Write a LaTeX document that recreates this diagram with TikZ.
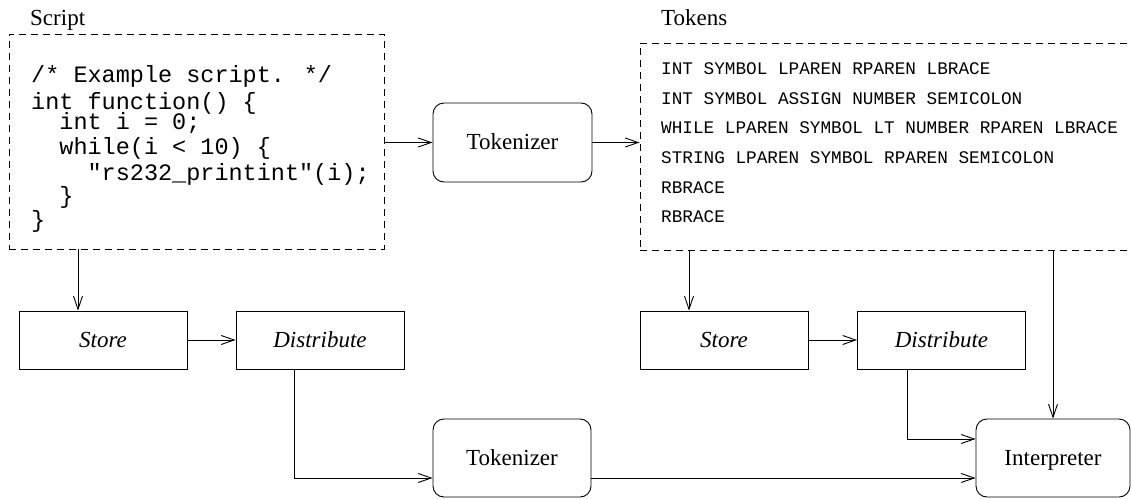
\documentclass[tikz,border=0pt]{standalone}
\usepackage{fontspec}
\setmainfont{Liberation Serif}
\newfontfamily\codefont{Liberation Mono}
\usetikzlibrary{arrows.meta}

\tikzset{
  conn/.style={line width=0.9pt, -{Straight Barb[length=13pt,width=9pt,line width=0.9pt]}},
  frame/.style={draw, line width=0.9pt, dash pattern=on 7pt off 5pt, inner sep=0pt},
  task/.style={draw, line width=0.9pt, inner sep=0pt, minimum width=168pt, minimum height=58pt,
               font=\fontsize{23}{27}\selectfont\itshape},
  proc/.style={draw, line width=0.9pt, rounded corners=11pt, inner sep=0pt,
               font=\fontsize{23}{27}\selectfont},
  title/.style={anchor=base west, inner sep=0pt, font=\fontsize{23}{27}\selectfont},
  code/.style={anchor=base west, inner sep=0pt, font=\fontsize{23.5}{27}\codefont},
  tok/.style={anchor=base west, inner sep=0pt, font=\fontsize{17.7}{21}\codefont},
}

\begin{document}
\begin{tikzpicture}[x=1pt, y=-1pt]
\useasboundingbox (0,0) rectangle (1131,498);
\clip (0,0) rectangle (1131,498);

% source script
\node[frame, minimum width=375pt, minimum height=215pt] (script) at (196.5,141.5) {};
\node[title] (scriptlbl) at (30,25) {Script};
\node[code] (c1) at (31,82)  {/* Example script. */};
\node[code] (c2) at (31,109) {int function() \{};
\node[code] (c3) at (59.2,129) {int i = 0;};
\node[code] (c4) at (59.2,154) {while(i < 10) \{};
\node[code] (c5) at (87.4,180) {"rs232\_printint"(i);};
\node[code] (c6) at (59.2,203) {\}};
\node[code] (c7) at (31,227) {\}};

% token stream
\node[frame, minimum width=500pt, minimum height=207pt] (tokens) at (890,146.5) {};
\node[title] (tokenslbl) at (661,25) {Tokens};
\node[tok] (t1) at (661,74)  {INT SYMBOL LPAREN RPAREN LBRACE};
\node[tok] (t2) at (661,104) {INT SYMBOL ASSIGN NUMBER SEMICOLON};
\node[tok] (t3) at (661,133) {WHILE LPAREN SYMBOL LT NUMBER RPAREN LBRACE};
\node[tok] (t4) at (661,163) {STRING LPAREN SYMBOL RPAREN SEMICOLON};
\node[tok] (t5) at (661,193) {RBRACE};
\node[tok] (t6) at (661,222) {RBRACE};

% processing stages
\node[proc, minimum width=159pt, minimum height=79pt, text depth=2pt] (tok1) at (512.5,142.5) {Tokenizer};
\node[task] (store1) at (103,340) {Store};
\node[task] (dist1) at (320,340) {Distribute};
\node[task] (store2) at (724,340) {Store};
\node[task] (dist2) at (941.5,340) {Distribute};
\node[proc, minimum width=158pt, minimum height=78pt, text depth=0pt] (tok2) at (512,458) {Tokenizer};
\node[proc, minimum width=154pt, minimum height=78pt, text depth=0pt] (interp) at (1053,458) {Interpreter};

% connectors
\draw[conn] (tok1.west -| script.east) -- (tok1.west);
\draw[conn] (tok1.east) -- (tok1.east -| tokens.west);
\draw[conn] ([xshift=-25pt]store1.north |- script.south) -- ([xshift=-25pt]store1.north);
\draw[conn] (store1.east) -- (dist1.west);
\draw[conn] ([xshift=-26pt]dist1.south) |- ([yshift=-20pt]tok2.west);
\draw[conn] ([xshift=-35pt]store2.north |- tokens.south) -- ([xshift=-35pt]store2.north);
\draw[conn] (store2.east) -- (dist2.west);
\draw[conn] ([xshift=-34.5pt]dist2.south) |- ([yshift=19pt]interp.west);
\draw[conn] ([yshift=-20pt]tok2.east) -- ([yshift=-20pt]interp.west);
\draw[conn] (interp.north |- tokens.south) -- (interp.north);
\end{tikzpicture}
\end{document}
